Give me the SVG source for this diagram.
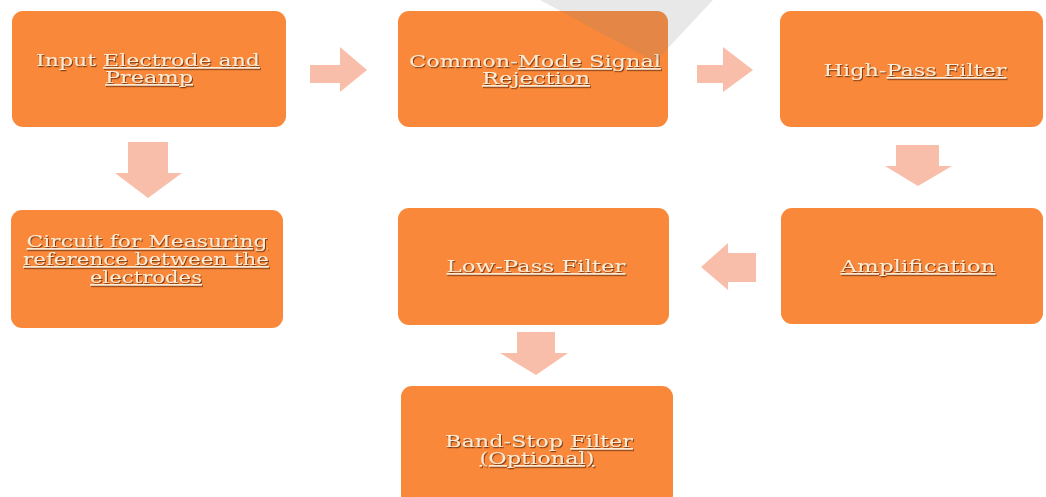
<svg xmlns="http://www.w3.org/2000/svg" width="1046" height="497" viewBox="0 0 1046 497">
  <defs>
    <filter id="ts" x="-10%" y="-30%" width="120%" height="160%">
      <feDropShadow dx="1" dy="1.2" stdDeviation="0.5" flood-color="#6e300c" flood-opacity="0.9"/>
    </filter>
    <style>
      .box { fill: #F9883A; }
      .arr { fill: #F9BEA9; }
      .lbl { font-family: "DejaVu Serif", "Liberation Serif", serif; font-size: 16.5px; fill: #FCEBD2; text-anchor: middle; filter: url(#ts); }
      .sq { text-decoration: underline; text-decoration-color: #e7a27c; }
    </style>
  </defs>
  <rect width="1046" height="497" fill="#ffffff"/>

  <g id="connectors">
    <polygon class="arr" points="310,65 340,65 340,47 367,70 340,92 340,83 310,83"/>
    <polygon class="arr" points="697,65 723,65 723,47 753,70 723,92 723,83 697,83"/>
    <polygon class="arr" points="128,142 168,142 168,173 182,173 148,198 115,173 128,173"/>
    <polygon class="arr" points="896,145 939,145 939,166 952,166 918,186 885,166 896,166"/>
    <polygon class="arr" points="756,253 756,282 728,282 728,290 701,267 728,243 728,253"/>
    <polygon class="arr" points="517,332 555,332 555,353 568,353 536,375 500,353 517,353"/>
  </g>

  <g id="node-input">
    <rect class="box" x="12" y="11" width="274" height="116" rx="11"/>
    <text class="lbl" x="148" y="66" textLength="224" lengthAdjust="spacingAndGlyphs">Input <tspan class="sq">Electrode and</tspan></text>
    <text class="lbl" x="149" y="83" textLength="88" lengthAdjust="spacingAndGlyphs"><tspan class="sq">Preamp</tspan></text>
  </g>
  <g id="node-cmrr">
    <rect class="box" x="398" y="11" width="270" height="116" rx="11"/>
    <text class="lbl" x="535" y="67" textLength="252" lengthAdjust="spacingAndGlyphs">Common-<tspan class="sq">Mode Signal</tspan></text>
    <text class="lbl" x="536" y="84" textLength="108" lengthAdjust="spacingAndGlyphs"><tspan class="sq">Rejection</tspan></text>
  </g>
  <g id="node-highpass">
    <rect class="box" x="780" y="11" width="263" height="116" rx="11"/>
    <text class="lbl" x="915" y="76" textLength="183" lengthAdjust="spacingAndGlyphs">High-<tspan class="sq">Pass Filter</tspan></text>
  </g>
  <g id="node-circuit">
    <rect class="box" x="11" y="210" width="272" height="118" rx="11"/>
    <text class="lbl" x="147" y="247" textLength="241" lengthAdjust="spacingAndGlyphs"><tspan class="sq">Circuit for Measuring</tspan></text>
    <text class="lbl" x="146" y="265" textLength="246" lengthAdjust="spacingAndGlyphs"><tspan class="sq">reference between the</tspan></text>
    <text class="lbl" x="146" y="283" textLength="112" lengthAdjust="spacingAndGlyphs"><tspan class="sq">electrodes</tspan></text>
  </g>
  <g id="node-lowpass">
    <rect class="box" x="398" y="208" width="271" height="117" rx="11"/>
    <text class="lbl" x="536" y="272" textLength="179" lengthAdjust="spacingAndGlyphs"><tspan class="sq">Low-Pass Filter</tspan></text>
  </g>
  <g id="node-amp">
    <rect class="box" x="781" y="208" width="262" height="116" rx="11"/>
    <text class="lbl" x="918" y="272" textLength="155" lengthAdjust="spacingAndGlyphs"><tspan class="sq">Amplification</tspan></text>
  </g>
  <g id="node-bandstop">
    <rect class="box" x="401" y="386" width="272" height="120" rx="11"/>
    <text class="lbl" x="539" y="447" textLength="188" lengthAdjust="spacingAndGlyphs">Band-Stop <tspan class="sq">Filter</tspan></text>
    <text class="lbl" x="537" y="464" textLength="115" lengthAdjust="spacingAndGlyphs"><tspan class="sq">(Optional)</tspan></text>
  </g>

  <polygon points="540,0 713,0 655,62" fill="#7f7f7f" opacity="0.18"/>
</svg>
